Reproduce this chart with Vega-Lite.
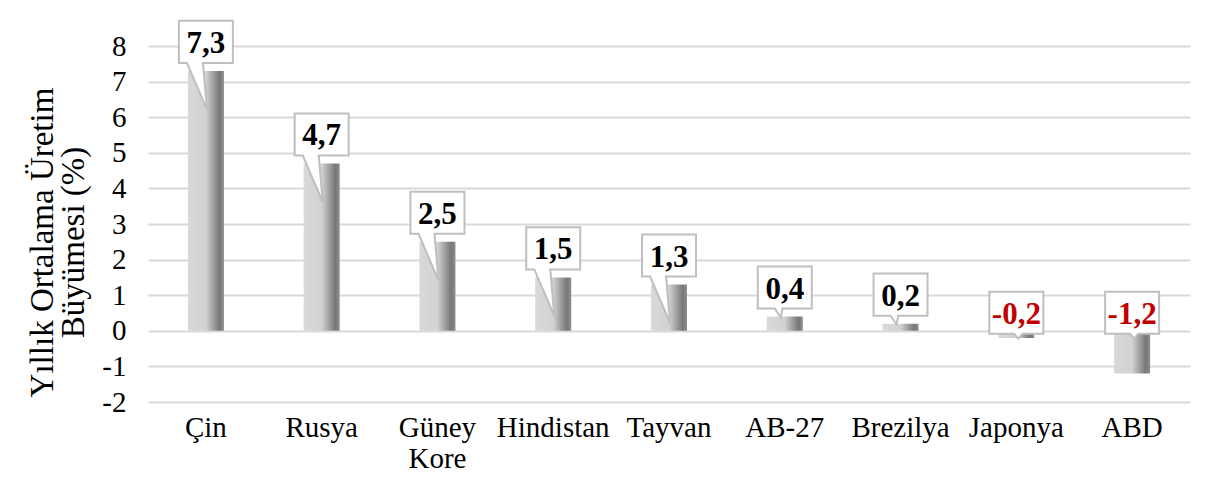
{
  "$schema": "https://vega.github.io/schema/vega-lite/v6.json",
  "autosize": {"type": "none"},
  "padding": {"left": 148, "top": 46, "right": 28, "bottom": 98},
  "width": 1042,
  "height": 356,
  "background": "white",
  "config": {
    "view": {"stroke": null},
    "font": "Liberation Serif",
    "locale": {"number": {"decimal": ",", "thousands": ".", "grouping": [3], "currency": ["", ""], "minus": "-"}}
  },
  "data": {
    "values": [
      {"ulke": "Çin", "deger": 7.3},
      {"ulke": "Rusya", "deger": 4.7},
      {"ulke": "Güney Kore", "deger": 2.5},
      {"ulke": "Hindistan", "deger": 1.5},
      {"ulke": "Tayvan", "deger": 1.3},
      {"ulke": "AB-27", "deger": 0.4},
      {"ulke": "Brezilya", "deger": 0.2},
      {"ulke": "Japonya", "deger": -0.2},
      {"ulke": "ABD", "deger": -1.2}
    ]
  },
  "encoding": {
    "x": {
      "field": "ulke", "type": "nominal", "sort": null,
      "scale": {"paddingInner": 0, "paddingOuter": 0},
      "axis": {
        "title": null, "labelAngle": 0, "domain": false, "ticks": false,
        "labelFont": "Liberation Serif", "labelFontSize": 29, "labelColor": "#000000",
        "labelPadding": 11, "labelBaseline": "top", "labelLineHeight": 31,
        "labelExpr": "datum.label == 'Güney Kore' ? ['Güney', 'Kore'] : datum.label"
      }
    },
    "y": {
      "field": "deger", "type": "quantitative",
      "scale": {"domain": [-2, 8], "nice": false, "zero": false},
      "axis": {
        "values": [-2, -1, 0, 1, 2, 3, 4, 5, 6, 7, 8],
        "format": "d", "labelOverlap": false,
        "domain": false, "ticks": false,
        "gridColor": "#d9d9d9", "gridWidth": 2,
        "labelFont": "Liberation Serif", "labelFontSize": 29, "labelColor": "#000000",
        "labelPadding": 22,
        "title": ["Yıllık Ortalama Üretim", "Büyümesi (%)"],
        "titleFont": "Liberation Serif", "titleFontSize": 33, "titleFontWeight": "normal",
        "titleColor": "#000000", "titleLineHeight": 31,
        "titleAngle": -90, "titleBaseline": "middle", "titleAlign": "center",
        "titleX": -106, "titleY": 196
      }
    }
  },
  "layer": [
    {
      "mark": {
        "type": "bar", "size": 36,
        "color": {
          "gradient": "linear", "x1": 0, "x2": 1, "y1": 0, "y2": 0,
          "stops": [
            {"offset": 0, "color": "#d9d9d9"},
            {"offset": 0.5, "color": "#d2d2d2"},
            {"offset": 0.88, "color": "#777777"},
            {"offset": 1, "color": "#8e8e8e"}
          ]
        }
      }
    },
    {
      "transform": [{"filter": "datum.deger >= 1"}],
      "mark": {
        "type": "point", "filled": true, "fill": "white", "stroke": "#bfbfbf",
        "strokeWidth": 2, "opacity": 1, "size": 2916, "yOffset": -29,
        "shape": "M-1,-0.78L1,-0.78L1,0.78L-0.11,0.78L0.04,2.5L-0.7,0.78L-1,0.78Z"
      }
    },
    {
      "transform": [{"filter": "datum.deger > 0 && datum.deger < 1"}],
      "mark": {
        "type": "point", "filled": true, "fill": "white", "stroke": "#bfbfbf",
        "strokeWidth": 2, "opacity": 1, "size": 2916, "yOffset": -29,
        "shape": "M-1,-0.78L1,-0.78L1,0.78L-0.08,0.78L-0.15,1.1L-0.37,0.78L-1,0.78Z"
      }
    },
    {
      "transform": [{"filter": "datum.deger < 0"}],
      "mark": {
        "type": "point", "filled": true, "fill": "white", "stroke": "#bfbfbf",
        "strokeWidth": 2, "opacity": 1, "size": 2916, "yOffset": -18,
        "shape": "M-1,-0.78L1,-0.78L1,0.78L0.22,0.78L0.08,0.96L-0.08,0.78L-1,0.78Z"
      },
      "encoding": {"y": {"datum": 0, "type": "quantitative"}}
    },
    {
      "transform": [{"filter": "datum.deger > 0"}],
      "mark": {
        "type": "text", "font": "Liberation Serif", "fontSize": 31, "fontWeight": "bold",
        "color": "#000000", "baseline": "alphabetic", "align": "center", "yOffset": -18
      },
      "encoding": {
        "text": {"field": "deger", "type": "quantitative", "format": ".1f"}
      }
    },
    {
      "transform": [{"filter": "datum.deger < 0"}],
      "mark": {
        "type": "text", "font": "Liberation Serif", "fontSize": 31, "fontWeight": "bold",
        "color": "#c00000", "baseline": "alphabetic", "align": "center", "yOffset": -7
      },
      "encoding": {
        "y": {"datum": 0, "type": "quantitative"},
        "text": {"field": "deger", "type": "quantitative", "format": ".1f"}
      }
    }
  ]
}
